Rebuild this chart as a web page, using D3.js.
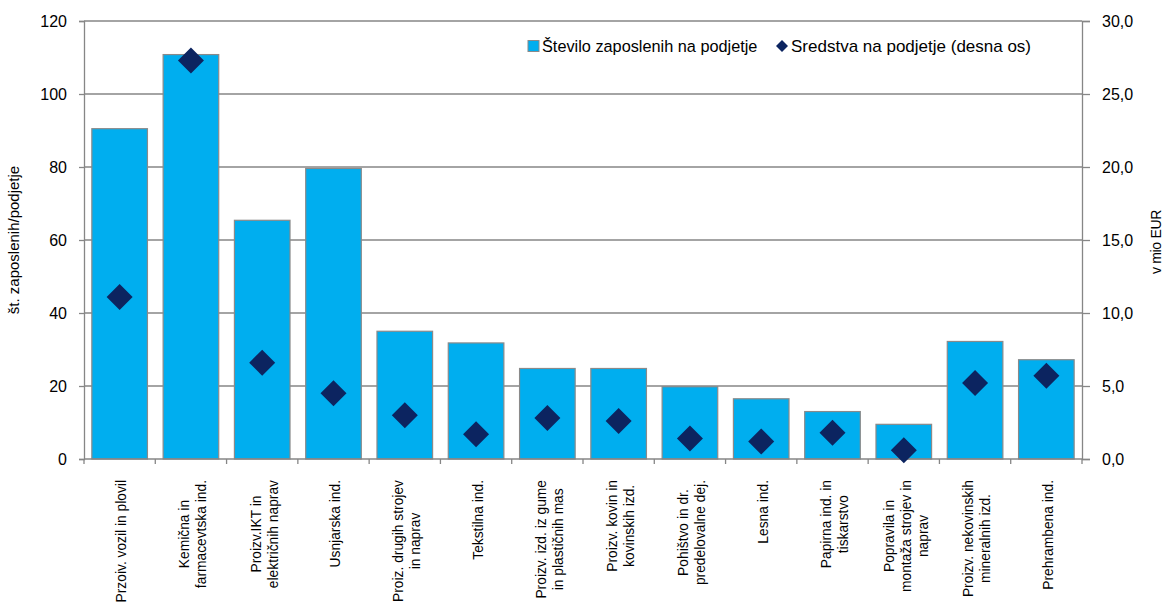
<!DOCTYPE html>
<html>
<head>
<meta charset="utf-8">
<script src="https://d3js.org/d3.v7.min.js"></script>
<style>
  body { margin: 0; background: #fff; }
  text { font-family: "Liberation Sans", Arial, sans-serif; fill: #000; }
</style>
</head>
<body>
<div id="chart"></div>
<script>
// categories (line breaks as in the original labels)
var categories = [
  ["Przoiv. vozil in plovil"],
  ["Kemična in", "farmacevtska ind."],
  ["Proizv.IKT in", "električnih naprav"],
  ["Usnjarska ind."],
  ["Proiz. drugih strojev", "in naprav"],
  ["Tekstilna ind."],
  ["Proizv. izd. iz gume", "in plastičnih mas"],
  ["Proizv. kovin in", "kovinskih izd."],
  ["Pohištvo in dr.", "predelovalne dej."],
  ["Lesna ind."],
  ["Papirna ind. in", "tiskarstvo"],
  ["Popravila in", "montaža strojev in", "naprav"],
  ["Proizv. nekovinskih", "mineralnih izd."],
  ["Prehrambena ind."]
];
var employees = [90.5, 110.8, 65.4, 79.6, 35.0, 31.8, 24.8, 24.8, 19.8, 16.5, 13.0, 9.5, 32.2, 27.2];
var assets = [11.1, 27.3, 6.6, 4.5, 3.0, 1.7, 2.8, 2.6, 1.4, 1.2, 1.8, 0.6, 5.2, 5.7];
var leftTicks = [0, 20, 40, 60, 80, 100, 120];
var rightTicks = [0, 5, 10, 15, 20, 25, 30];

var W = 1168, H = 605;
var margin = {top: 21, right: 86, bottom: 146, left: 84};
var width = W - margin.left - margin.right,
    height = H - margin.top - margin.bottom;

var svg = d3.select("#chart").append("svg")
    .attr("width", W)
    .attr("height", H)
  .append("g")
    .attr("transform", "translate(" + margin.left + "," + margin.top + ")");

var x = d3.scaleBand()
    .domain(d3.range(categories.length))
    .range([0, width])
    .paddingInner(0.22)
    .paddingOuter(0.11);

var yL = d3.scaleLinear().domain([0, 120]).range([height, 0]);
var yR = d3.scaleLinear().domain([0, 30]).range([height, 0]);

var gridColor = "#868686";

// gridlines
svg.append("g").selectAll("line")
    .data(leftTicks.slice(1))
  .enter().append("line")
    .attr("x1", 0).attr("x2", width)
    .attr("y1", function(d) { return yL(d); })
    .attr("y2", function(d) { return yL(d); })
    .attr("stroke", gridColor).attr("stroke-width", 1.3);

// bars
svg.append("g").selectAll("rect")
    .data(employees)
  .enter().append("rect")
    .attr("x", function(d, i) { return x(i); })
    .attr("y", function(d) { return yL(d); })
    .attr("width", x.bandwidth())
    .attr("height", function(d) { return height - yL(d); })
    .style("fill", "#00AEEF")
    .style("stroke", "#8a8a8a")
    .style("stroke-width", 1.2);

// left axis
var leftAxis = svg.append("g")
    .call(d3.axisLeft(yL).tickValues(leftTicks).tickSize(5).tickPadding(12));
leftAxis.select(".domain").attr("stroke", gridColor).attr("stroke-width", 1.3);
leftAxis.selectAll(".tick line").attr("stroke", gridColor).attr("stroke-width", 1.3);
leftAxis.selectAll("text").style("font-size", "16px")
    .style("font-family", "'Liberation Sans', Arial, sans-serif").attr("fill", "#000");

// right axis
var rightAxis = svg.append("g")
    .attr("transform", "translate(" + width + ",0)")
    .call(d3.axisRight(yR).tickValues(rightTicks).tickSize(8).tickPadding(12)
      .tickFormat(function(d) { return d3.format(".1f")(d).replace(".", ","); }));
rightAxis.select(".domain").attr("stroke", gridColor).attr("stroke-width", 1.3);
rightAxis.selectAll(".tick line").attr("stroke", gridColor).attr("stroke-width", 1.3);
rightAxis.selectAll("text").style("font-size", "16px")
    .style("font-family", "'Liberation Sans', Arial, sans-serif").attr("fill", "#000");

// bottom axis line and ticks between categories
svg.append("line")
    .attr("x1", 0).attr("x2", width)
    .attr("y1", height).attr("y2", height)
    .attr("stroke", gridColor).attr("stroke-width", 1.3);
var step = x.step();
var edge0 = x(0) - x.paddingOuter() * step - x.paddingInner() * step / 2 + x.paddingInner() * step / 2;
svg.append("g").selectAll("line")
    .data(d3.range(categories.length + 1))
  .enter().append("line")
    .attr("x1", function(d) { return Math.min(width, Math.max(0, x(0) - x.paddingInner() * step / 2 + d * step)); })
    .attr("x2", function(d) { return Math.min(width, Math.max(0, x(0) - x.paddingInner() * step / 2 + d * step)); })
    .attr("y1", height).attr("y2", height + 5)
    .attr("stroke", gridColor).attr("stroke-width", 1.3);

// diamonds
svg.append("g").selectAll("path")
    .data(assets)
  .enter().append("path")
    .attr("d", "M0,-13L13,0L0,13L-13,0Z")
    .attr("transform", function(d, i) {
      return "translate(" + (x(i) + x.bandwidth() / 2) + "," + yR(d) + ")"; })
    .style("fill", "#0C2460");

// category labels, rotated, multi-line
var lineH = 17;
var lab = svg.append("g").selectAll("g")
    .data(categories)
  .enter().append("g")
    .attr("transform", function(d, i) {
      return "translate(" + (x(i) + x.bandwidth() / 2 + 2) + "," + (height + 21) + ") rotate(-90)"; });
lab.each(function(lines) {
  var g = d3.select(this);
  var n = lines.length;
  var texts = lines.map(function(l, k) {
    return g.append("text")
      .attr("y", (k - (n - 1) / 2) * lineH)
      .attr("dy", "0.35em")
      .attr("text-anchor", "middle")
      .style("font-size", "13.8px")
      .text(l);
  });
  var maxLen = d3.max(texts, function(t) { return t.node().getComputedTextLength(); });
  texts.forEach(function(t) { t.attr("x", -maxLen / 2); });
});

// axis titles
svg.append("text")
    .attr("transform", "translate(" + (-70) + "," + (height / 2) + ") rotate(-90)")
    .attr("text-anchor", "middle")
    .attr("dy", "0.35em")
    .style("font-size", "15px")
    .text("št. zaposlenih/podjetje");

svg.append("text")
    .attr("transform", "translate(" + (width + 74) + "," + (height / 2 + 2) + ") rotate(-90)")
    .attr("text-anchor", "middle")
    .attr("dy", "0.35em")
    .style("font-size", "14px")
    .style("letter-spacing", "-0.3px")
    .text("v mio EUR");

// legend
var legend = svg.append("g").attr("transform", "translate(" + 444 + "," + 25 + ")");
legend.append("rect")
    .attr("x", 0).attr("y", -5.5).attr("width", 11).attr("height", 11)
    .style("fill", "#00AEEF").style("stroke", "#8a8a8a").style("stroke-width", 1);
legend.append("text")
    .attr("x", 14).attr("dy", "0.35em")
    .style("font-size", "16.3px")
    .text("Število zaposlenih na podjetje");
legend.append("path")
    .attr("d", "M0,-6L6,0L0,6L-6,0Z")
    .attr("transform", "translate(254,0)")
    .style("fill", "#0C2460");
legend.append("text")
    .attr("x", 263).attr("dy", "0.35em")
    .style("font-size", "17px")
    .text("Sredstva na podjetje (desna os)");
</script>
</body>
</html>
